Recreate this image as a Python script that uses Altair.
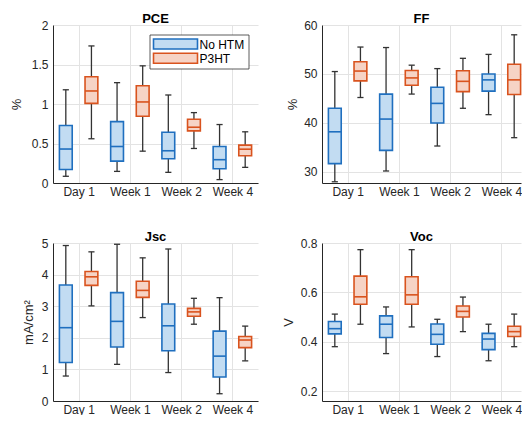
import json
import altair as alt
import pandas as pd

categories = ["Day 1", "Week 1", "Week 2", "Week 4"]
groups = ["No HTM", "P3HT"]
edge_colors = ["#1f6fbf", "#d9531e"]
fill_colors = ["#c2dcf2", "#f6d3c5"]

# five-number summaries per category: [lower whisker, q1, median, q3, upper whisker]
pce_nohtm = [[0.085, 0.17, 0.43, 0.727, 1.18], [0.147, 0.277, 0.462, 0.777, 1.27],
             [0.135, 0.307, 0.408, 0.643, 1.114], [0.043, 0.181, 0.295, 0.462, 0.74]]
pce_p3ht = [[0.56, 1.008, 1.165, 1.345, 1.735], [0.403, 0.845, 1.026, 1.231, 1.483],
            [0.437, 0.66, 0.706, 0.807, 0.891], [0.198, 0.345, 0.428, 0.479, 0.648]]
ff_nohtm = [[28.0, 31.7, 38.2, 43.0, 50.5], [30.2, 34.4, 40.8, 45.9, 55.4],
            [35.3, 40.0, 44.0, 47.3, 51.1], [41.7, 46.5, 48.8, 50.0, 54.0]]
ff_p3ht = [[45.2, 48.6, 50.6, 52.5, 55.5], [45.9, 47.7, 49.2, 50.7, 51.8],
           [43.0, 46.4, 48.5, 50.65, 53.2], [37.0, 45.8, 48.8, 52.0, 58.0]]
jsc_nohtm = [[0.79, 1.22, 2.32, 3.67, 4.92], [1.16, 1.71, 2.52, 3.43, 4.96],
             [0.9, 1.59, 2.38, 3.07, 4.81], [0.23, 0.76, 1.42, 2.21, 3.27]]
jsc_p3ht = [[3.01, 3.66, 3.93, 4.1, 4.72], [2.64, 3.28, 3.5, 3.79, 4.53],
            [2.43, 2.68, 2.82, 2.93, 3.25], [1.27, 1.69, 1.93, 2.04, 2.37]]
voc_nohtm = [[0.38, 0.432, 0.453, 0.482, 0.512], [0.352, 0.417, 0.471, 0.505, 0.541],
             [0.34, 0.39, 0.43, 0.472, 0.491], [0.323, 0.368, 0.411, 0.434, 0.471]]
voc_p3ht = [[0.471, 0.552, 0.582, 0.666, 0.773], [0.46, 0.552, 0.59, 0.663, 0.773],
            [0.441, 0.5, 0.523, 0.545, 0.581], [0.38, 0.421, 0.441, 0.463, 0.512]]

FONT = "Liberation Sans"
TXT = "#262626"
PW, PH = 205, 158          # plot area of a full panel
RW = 199                   # right-hand panels are cut by the window edge in the reference
RMAX = 0.5 + 4 * RW / PW   # keep the same x scale on the cut panels


def make_df(nohtm, p3ht):
    rows = []
    for g, stats in zip(groups, [nohtm, p3ht]):
        for i, s in enumerate(stats):
            rows.append(dict(group=g, cat=i + 1, lower=s[0], q1=s[1], median=s[2], q3=s[3], upper=s[4]))
    return pd.DataFrame(rows)


label_expr = json.dumps(categories) + "[datum.value - 1]"


def legend_layers():
    one = alt.Data(values=[{"k": 0}])
    right = PW - 9
    left = right - 99
    frame = alt.Chart(one).mark_rect(fill="white", stroke="#333333", strokeWidth=0.8).encode(
        x=alt.value(left), x2=alt.value(right), y=alt.value(10), y2=alt.value(44))
    out = [frame]
    for i, g in enumerate(groups):
        top = 14 + i * 14.3
        out.append(alt.Chart(one).mark_rect(fill=fill_colors[i], stroke=edge_colors[i], strokeWidth=1.6).encode(
            x=alt.value(left + 3.5), x2=alt.value(left + 47.5), y=alt.value(top), y2=alt.value(top + 10)))
        out.append(alt.Chart(one).mark_text(text=g, align="left", baseline="middle", font=FONT,
                                            fontSize=12, color="black").encode(
            x=alt.value(left + 49.5), y=alt.value(top + 5.5)))
    return out


def panel(title, unit, nohtm, p3ht, ydomain, yticks, yfmt, width, xmax, tpad, legend=False):
    df = make_df(nohtm, p3ht)
    base = alt.Chart(df).transform_calculate(
        pos="datum.cat + (datum.group == 'P3HT' ? 0.25 : -0.25)",
        boxL="datum.pos - 0.125", boxR="datum.pos + 0.125",
        capL="datum.pos - 0.06", capR="datum.pos + 0.06",
        edge=f"datum.group == 'P3HT' ? '{edge_colors[1]}' : '{edge_colors[0]}'",
        fillc=f"datum.group == 'P3HT' ? '{fill_colors[1]}' : '{fill_colors[0]}'",
    )
    xscale = alt.Scale(domain=[0.5, xmax], nice=False, zero=False)
    xaxis = alt.Axis(values=[1, 2, 3, 4], labelExpr=label_expr, title=None, grid=True,
                     ticks=True, tickSize=0, tickWidth=0, labelPadding=3)
    yscale = alt.Scale(domain=ydomain, nice=False, zero=False)
    yaxis = alt.Axis(values=yticks, format=yfmt, title=unit, grid=True, ticks=True, tickSize=0,
                     tickWidth=0, labelPadding=5, titlePadding=tpad)

    def X(f):
        return alt.X(f, type="quantitative", scale=xscale, axis=xaxis)

    def Y(f):
        return alt.Y(f, type="quantitative", scale=yscale, axis=yaxis)

    whisk = base.mark_rule(color="#333333", strokeWidth=1.3).encode(x=X("pos"), y=Y("lower"), y2="upper:Q")
    cap_lo = base.mark_rule(color="#333333", strokeWidth=1.3).encode(x=X("capL"), x2="capR:Q", y=Y("lower"))
    cap_hi = base.mark_rule(color="#333333", strokeWidth=1.3).encode(x=X("capL"), x2="capR:Q", y=Y("upper"))
    box = base.mark_rect(strokeWidth=1.6).encode(
        x=X("boxL"), x2="boxR:Q", y=Y("q1"), y2="q3:Q",
        fill=alt.Fill("fillc:N", scale=None), stroke=alt.Stroke("edge:N", scale=None))
    med = base.mark_rule(strokeWidth=1.6).encode(
        x=X("boxL"), x2="boxR:Q", y=Y("median"), stroke=alt.Stroke("edge:N", scale=None))
    layers = [whisk, cap_lo, cap_hi, box, med]
    if legend:
        layers += legend_layers()
    return alt.layer(*layers).properties(
        width=width, height=PH,
        title=alt.TitleParams(text=title, fontSize=13, fontWeight="bold", color="black",
                              font=FONT, offset=-7),
    )


p1 = panel("PCE", "%", pce_nohtm, pce_p3ht, [0, 2], [0, 0.5, 1, 1.5, 2], ".1~f", PW, 4.5, 8, legend=True)
p2 = panel("FF", "%", ff_nohtm, ff_p3ht, [27.75, 60], [30, 40, 50, 60], "d", RW, RMAX, 4)
p3 = panel("Jsc", "mA/cm²", jsc_nohtm, jsc_p3ht, [0, 5], [0, 1, 2, 3, 4, 5], "d", PW, 4.5, 6)
p4 = panel("Voc", "V", voc_nohtm, voc_p3ht, [0.16, 0.8], [0.2, 0.4, 0.6, 0.8], ".1f", RW, RMAX, 5)

chart = alt.concat(p1, p2, p3, p4, columns=2, bounds="flush",
                   spacing=alt.RowColnumber(row=60, column=64)).configure_view(stroke=None).configure_axis(
    labelFont=FONT, labelFontSize=12, labelColor=TXT, titleFont=FONT, titleFontSize=13,
    titleColor=TXT, titleFontWeight="normal", domainColor=TXT, domainWidth=1,
    gridColor="#e3e3e3", gridWidth=1,
).properties(padding={"left": 2, "top": 5, "right": 0, "bottom": 0}, background="white")

chart.save("out.html", embed_options={"renderer": "svg", "actions": False})
